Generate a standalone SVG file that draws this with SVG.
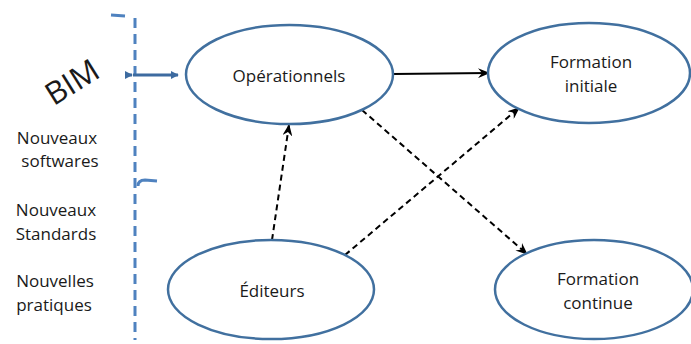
<svg xmlns="http://www.w3.org/2000/svg" width="691" height="344" viewBox="0 0 691 344">
<defs>
<style>
.node ellipse{fill:#fff;stroke:#41709f;stroke-width:2.5}
.t{font-family:"Open Sans","Noto Sans",sans-serif;font-size:17px;fill:#1a1a1a;text-anchor:middle}
.lbl{font-family:"Open Sans","Noto Sans",sans-serif;font-size:17px;fill:#1a1a1a;text-anchor:middle}
.dash{stroke:#000;stroke-width:2;stroke-dasharray:6 4;fill:none}
.solid{stroke:#000;stroke-width:2;fill:none}
</style>
<marker id="ah" viewBox="0 0 12 10" refX="11" refY="5" markerWidth="12" markerHeight="10" markerUnits="userSpaceOnUse" orient="auto">
<path d="M0,0 L12,5 L0,10 L4,5 z" fill="#000"/>
</marker>
<marker id="bh" viewBox="0 0 10 10" refX="9" refY="5" markerWidth="8" markerHeight="8" markerUnits="userSpaceOnUse" orient="auto">
<path d="M0,0 L10,5 L0,10 z" fill="#3d6ba0"/>
</marker>
</defs>
<rect width="691" height="344" fill="#fff"/>

<g id="boundary">
<line x1="135" y1="18" x2="135" y2="340" stroke="#4f82bf" stroke-width="3" stroke-dasharray="10 6"/>
<path d="M111,15 L125,16" stroke="#4f82bf" stroke-width="3" fill="none"/>
<path d="M138,186 Q138,180 145,180 L157,181" stroke="#4f82bf" stroke-width="3" fill="none"/>
</g>

<g id="left-labels">
<text class="t" x="72" y="93" transform="rotate(-32 72 82)" style="font-size:31px">BIM</text>
<text class="lbl" x="57" y="144">Nouveaux</text>
<text class="lbl" x="60" y="167">softwares</text>
<text class="lbl" x="56" y="216">Nouveaux</text>
<text class="lbl" x="56" y="240">Standards</text>
<text class="lbl" x="55" y="287">Nouvelles</text>
<text class="lbl" x="54" y="311">pratiques</text>
</g>

<g id="connectors">
<line x1="125" y1="75" x2="132" y2="75" stroke="#3d6ba0" stroke-width="3" marker-end="url(#bh)"/>
<line x1="133" y1="75" x2="178" y2="75" stroke="#3d6ba0" stroke-width="3" marker-end="url(#bh)"/>
<line class="solid" x1="393" y1="74" x2="489" y2="73" marker-end="url(#ah)"/>
<line class="dash" x1="272" y1="240" x2="289" y2="125" marker-end="url(#ah)"/>
<line class="dash" x1="345" y1="255" x2="519" y2="108" marker-end="url(#ah)"/>
<line class="dash" x1="362" y1="110" x2="527" y2="254" marker-end="url(#ah)"/>
</g>

<g id="operationnels" class="node">
<ellipse cx="289.5" cy="74.5" rx="103.5" ry="49.5"/>
<text class="t" x="289" y="82">Opérationnels</text>
</g>
<g id="formation-initiale" class="node">
<ellipse cx="589" cy="73" rx="101" ry="50"/>
<text class="t" x="591" y="68">Formation</text>
<text class="t" x="591" y="92">initiale</text>
</g>
<g id="editeurs" class="node">
<ellipse cx="271" cy="289.5" rx="103" ry="49.5"/>
<text class="t" x="272" y="297">Éditeurs</text>
</g>
<g id="formation-continue" class="node">
<ellipse cx="594" cy="289.5" rx="99" ry="49.5"/>
<text class="t" x="598" y="285">Formation</text>
<text class="t" x="598" y="309">continue</text>
</g>
</svg>
